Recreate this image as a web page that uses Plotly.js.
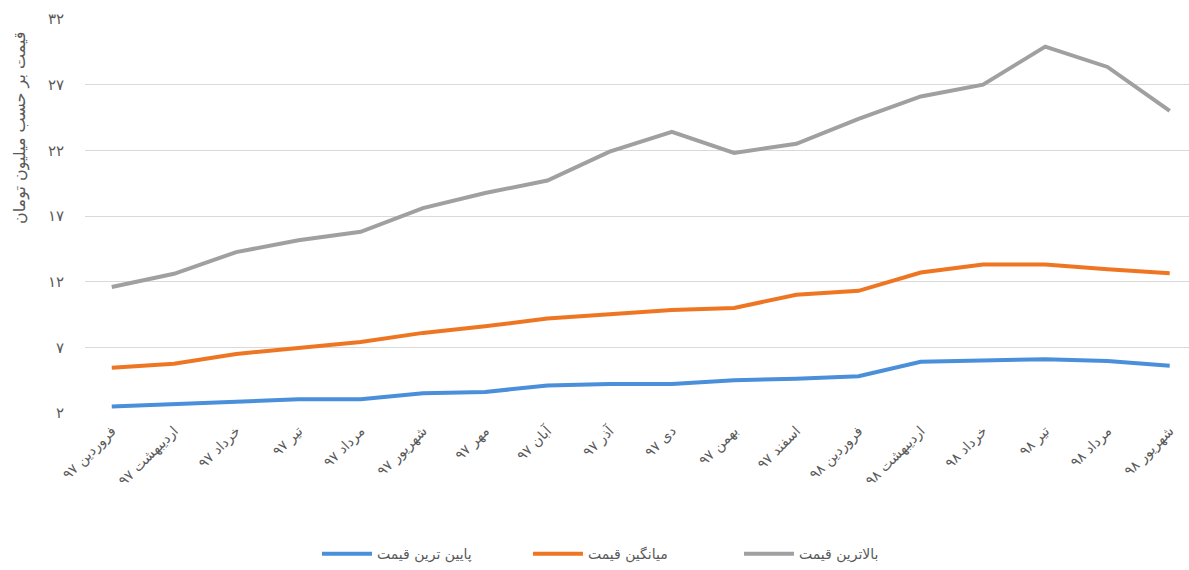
<!DOCTYPE html>
<html>
<head>
<meta charset="utf-8">
<script src="https://cdn.plot.ly/plotly-3.0.1.min.js"></script>
<style>html,body{margin:0;padding:0;background:#fff;}#chart{width:1189px;height:570px;}</style>
</head>
<body>
<div id="chart"></div>
<script>
const categories = ["فروردین ۹۷","اردیبهشت ۹۷","خرداد ۹۷","تیر ۹۷","مرداد ۹۷","شهریور ۹۷","مهر ۹۷","آبان ۹۷","آذر ۹۷","دی ۹۷","بهمن ۹۷","اسفند ۹۷","فروردین ۹۸","اردیبهشت ۹۸","خرداد ۹۸","تیر ۹۸","مرداد ۹۸","شهریور ۹۸"];
const minPrice = [2.5, 2.65, 2.85, 3.05, 3.05, 3.5, 3.6, 4.1, 4.2, 4.2, 4.5, 4.6, 4.8, 5.9, 6.0, 6.1, 5.95, 5.6];
const avgPrice = [5.45, 5.75, 6.5, 6.95, 7.4, 8.1, 8.6, 9.2, 9.55, 9.85, 10.0, 11.0, 11.3, 12.7, 13.3, 13.3, 12.95, 12.65];
const maxPrice = [11.6, 12.6, 14.25, 15.15, 15.8, 17.6, 18.75, 19.7, 21.9, 23.4, 21.8, 22.5, 24.4, 26.1, 27.0, 29.9, 28.35, 25.0];
const seriesNames = ["پایین ترین قیمت","میانگین قیمت","بالاترین قیمت"];
const yTickVals = [2, 7, 12, 17, 22, 27, 32];
const yTickText = ["۲","۷","۱۲","۱۷","۲۲","۲۷","۳۲"];
const yTitle = "قیمت بر حسب میلیون تومان";

const colors = ["#4A8FDA", "#EE7623", "#A0A0A0"];
const series = [minPrice, avgPrice, maxPrice];
const traces = series.map((vals, i) => ({
  type: "scatter",
  mode: "lines",
  x: categories,
  y: vals,
  name: seriesNames[i],
  line: {color: colors[i], width: 4}
}));

const font = "DejaVu Sans, Noto Sans, sans-serif";
const layout = {
  width: 1189, height: 570,
  margin: {l: 85, r: 0, t: 19, b: 157},
  paper_bgcolor: "#fff", plot_bgcolor: "#fff",
  font: {family: font, color: "#595959", size: 14},
  showlegend: true,
  legend: {orientation: "h", xref: "container", yref: "container", x: 0.2666, xanchor: "left", y: 0.028, yanchor: "middle",
           font: {size: 14, color: "#595959"}, entrywidth: 146, itemwidth: 50},
  xaxis: {type: "category", range: [-0.43, 17.31], tickangle: -45, showgrid: false, zeroline: false, showline: false,
          ticks: "", ticklabelstandoff: 6, tickfont: {size: 14, color: "#595959"}},
  yaxis: {range: [2, 32], tickvals: yTickVals, ticktext: yTickText, showgrid: true, gridcolor: "#D9D9D9", gridwidth: 1,
          zeroline: false, showline: false, ticks: "", ticklabelstandoff: 20, tickfont: {size: 15, color: "#595959"}},
  annotations: [{text: yTitle, textangle: -90, xref: "paper", yref: "paper", x: -0.059, y: 0.723, showarrow: false,
                 xanchor: "center", yanchor: "middle", font: {size: 16, color: "#595959"}}]
};
Plotly.newPlot("chart", traces, layout, {displayModeBar: false, staticPlot: true});
</script>
</body>
</html>
